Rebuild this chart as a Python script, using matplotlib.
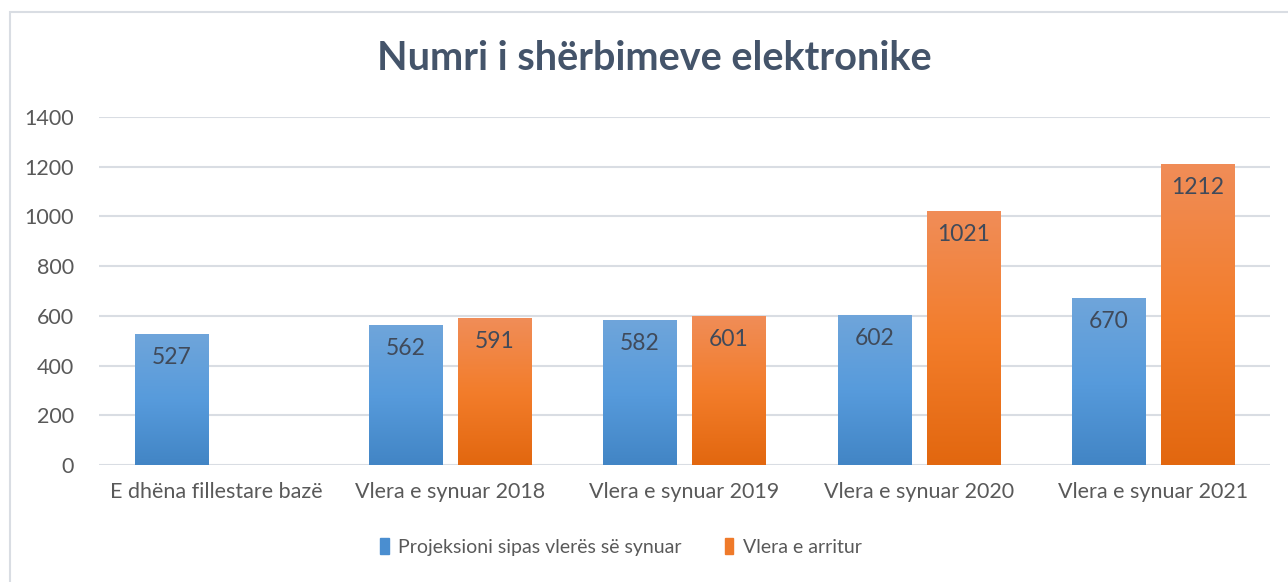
import numpy as np
import matplotlib.pyplot as plt
from matplotlib.patches import Rectangle
from matplotlib.colors import LinearSegmentedColormap

categories = ["E dhëna fillestare bazë", "Vlera e synuar 2018", "Vlera e synuar 2019",
              "Vlera e synuar 2020", "Vlera e synuar 2021"]
projeksioni = [527, 562, 582, 602, 670]
arritur = [None, 591, 601, 1021, 1212]
series_names = ["Projeksioni sipas vlerës së synuar", "Vlera e arritur"]
yticks = [0, 200, 400, 600, 800, 1000, 1200, 1400]

plt.rcParams['font.family'] = ['Lato', 'DejaVu Sans']
text_col = '#595959'

blue_cmap = LinearSegmentedColormap.from_list('b', ['#4285C5', '#579BDC', '#6FA5DA'])
orange_cmap = LinearSegmentedColormap.from_list('o', ['#E2670F', '#F37D2B', '#F08D58'])

fig = plt.figure(figsize=(12.88, 5.82), dpi=100)
ax = fig.add_axes([99 / 1288, 1 - 465 / 582, (1270 - 99) / 1288, (465 - 117) / 582])

# chart frame
fig.patches.append(Rectangle((10 / 1288, -0.1), 1.2, 1 - 12 / 582 + 0.1, transform=fig.transFigure,
                             fill=False, edgecolor='#D9DDE3', linewidth=1.5))

x = np.arange(len(categories))
w = 0.312
off = 0.19
gradient = np.linspace(0, 1, 256).reshape(-1, 1)


def grad_bar(xc, val, cmap):
    bar = ax.bar(xc, val, w, color='none', zorder=3)[0]
    im = ax.imshow(gradient, cmap=cmap, origin='lower', aspect='auto',
                   extent=[xc - w / 2, xc + w / 2, 0, val], zorder=3)
    im.set_clip_path(bar)
    ax.text(xc, val - 52, str(val), ha='center', va='top', fontsize=16.5, color='#404A5A', zorder=4)


for i in range(len(categories)):
    grad_bar(x[i] - off, projeksioni[i], blue_cmap)
    if arritur[i] is not None:
        grad_bar(x[i] + off, arritur[i], orange_cmap)

ax.set_xlim(-0.5, len(categories) - 0.5)
ax.set_ylim(0, 1400)
ax.set_yticks(yticks)
ax.set_xticks(x)
ax.set_xticklabels(categories)
ax.tick_params(axis='both', length=0, labelsize=15.5, colors=text_col)
ax.tick_params(axis='y', pad=18)
ax.tick_params(axis='x', pad=12)
ax.grid(axis='y', color='#D9DDE3', linewidth=1.5, zorder=0)
for s in ax.spines.values():
    s.set_visible(False)

fig.text(654 / 1288, 1 - 58 / 582, "Numri i shërbimeve elektronike",
         ha='center', va='center', fontsize=28.5, fontweight='bold', color='#44546A')

handles = [Rectangle((0, 0), 1, 1, color='#4A8ED0'), Rectangle((0, 0), 1, 1, color='#EF7A2A')]
fig.legend(handles, series_names, loc='center', bbox_to_anchor=(621 / 1288, 1 - 547 / 582),
           ncol=2, frameon=False, fontsize=14, labelcolor=text_col,
           handlelength=0.45, handleheight=0.9, handletextpad=0.5, columnspacing=2.2)

fig.savefig("out.png", dpi=100)
